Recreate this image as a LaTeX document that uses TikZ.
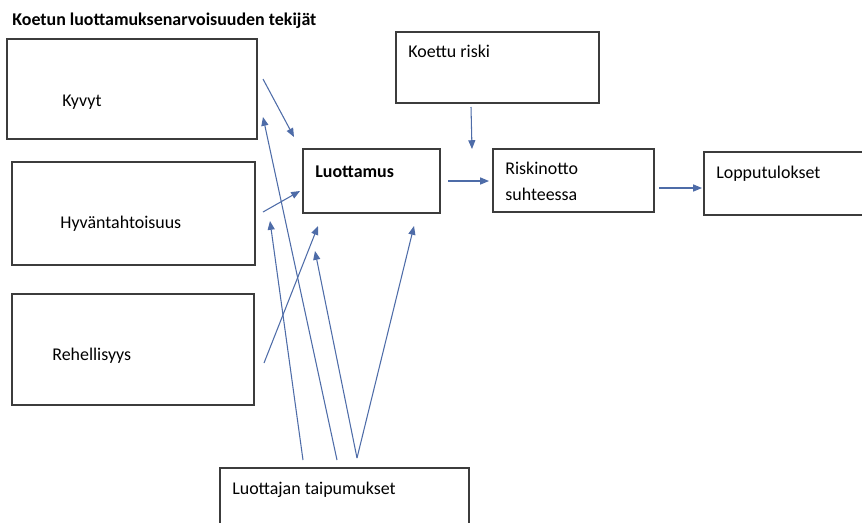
\documentclass[tikz,border=0pt]{standalone}
\usepackage{fontspec}
\setmainfont{Carlito}
\usepackage{xcolor}
\usetikzlibrary{arrows.meta}
\definecolor{arrowblue}{RGB}{78,108,168}
\definecolor{boxgray}{RGB}{60,60,60}

\begin{document}
\begin{tikzpicture}[x=0.02cm, y=-0.02cm,
    box/.style={rectangle, draw=boxgray, line width=0.75pt, inner sep=0pt},
    txt/.style={anchor=base west, inner sep=0pt, font=\fontsize{10.2}{14.7}\selectfont},
    arr/.style={draw=arrowblue, line width=0.6pt, -{Triangle[length=5pt, width=4pt]}}]

    \useasboundingbox[fill=white] (0,0) rectangle (862,522);

    % Boxes
    \node[box, minimum width=5cm, minimum height=2cm] (kyvyt) at (132,89) {};
    \node[box, minimum width=4.86cm, minimum height=2.06cm] (hyva) at (133.5,213.5) {};
    \node[box, minimum width=4.84cm, minimum height=2.22cm] (rehell) at (133,349.5) {};
    \node[box, minimum width=2.74cm, minimum height=1.28cm] (luott) at (371.5,181) {};
    \node[box, minimum width=4.06cm, minimum height=1.42cm] (riski) at (497.5,67.5) {};
    \node[box, minimum width=3.22cm, minimum height=1.26cm] (riskinotto) at (573.5,180.5) {};
    \node[box, minimum width=3.4cm, minimum height=1.26cm] (lopputul) at (789,183.5) {};
    \node[box, minimum width=4.98cm, minimum height=1.3cm] (taipumus) at (344.5,500.5) {};

    % Texts
    \node[txt, font=\fontsize{10.2}{12}\selectfont\bfseries] (otsikko) at (12,25) {Koetun luottamuksenarvoisuuden tekijät};
    \node[txt] (kyvyt-t) at (62,106) {Kyvyt};
    \node[txt] (hyva-t) at (60,228) {Hyväntahtoisuus};
    \node[txt] (rehell-t) at (52,360) {Rehellisyys};
    \node[txt, font=\fontsize{10.2}{14.7}\selectfont\bfseries] (luott-t) at (315,177) {Luottamus};
    \node[txt] (riski-t) at (408,57) {Koettu riski};
    \node[txt, align=left] (riskinotto-t) at (505,200) {Riskinotto\\suhteessa};
    \node[txt] (lopputul-t) at (716,178) {Lopputulokset};
    \node[txt] (taipumus-t) at (232,494) {Luottajan taipumukset};

    % Free ends of the arrows
    \coordinate (k1) at (263,79);
    \coordinate (k2) at (294,137);
    \coordinate (h1) at (263,212);
    \coordinate (h2) at (300,191);
    \coordinate (r1) at (264,363);
    \coordinate (r2) at (318,226);
    \coordinate (t1) at (303,460);
    \coordinate (t1e) at (270,221);
    \coordinate (t2) at (337,460);
    \coordinate (t2e) at (263,117);
    \coordinate (t3) at (357,458);
    \coordinate (t3a) at (315,251);
    \coordinate (t3b) at (414,226);
    \coordinate (ri1) at (471,107);
    \coordinate (ri2) at (472,149);
    \coordinate (l1) at (448,181);
    \coordinate (l2) at (489,181);
    \coordinate (n1) at (659,188);
    \coordinate (n2) at (702,188);

    % Arrows
    \draw[arr] (k1) -- (k2);
    \draw[arr] (h1) -- (h2);
    \draw[arr] (r1) -- (r2);
    \draw[arr] (t1) -- (t1e);
    \draw[arr] (t2) -- (t2e);
    \draw[arr] (t3) -- (t3a);
    \draw[arr] (t3) -- (t3b);
    \draw[arr] (ri1) -- (ri2);
    \draw[arr] (l1) -- (l2);
    \draw[arr] (n1) -- (n2);

\end{tikzpicture}
\end{document}
